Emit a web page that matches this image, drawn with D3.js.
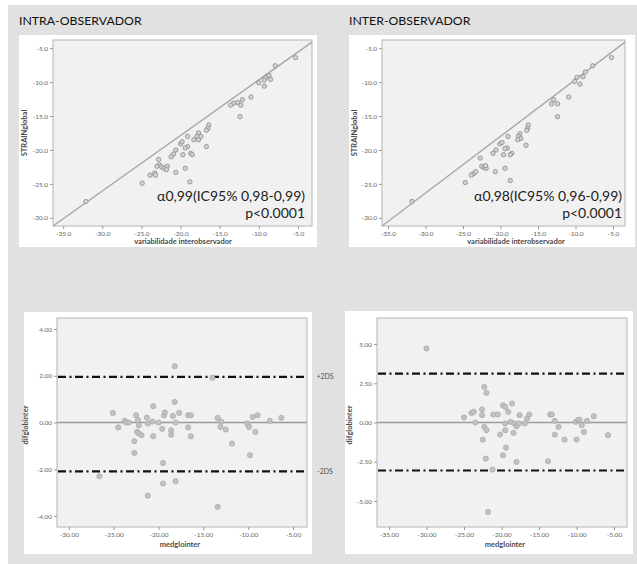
<!DOCTYPE html>
<html>
<head>
<meta charset="utf-8">
<script src="https://cdn.jsdelivr.net/npm/d3@7"></script>
<style>
  body { margin: 0; background: #fff; }
  svg { display: block; font-family: Lato, "Liberation Sans", sans-serif; }
</style>
</head>
<body>
<div id="chart"></div>
<script>
// correlation plots: x = variabilidade interobservador, y = STRAINglobal
const intraX = [-5.3, -7.9, -9.1, -8.7, -9.3, -8.5, -10.0, -9.3, -11.0, -13.2, -12.7, -12.3, -13.6, -12.1, -12.4,
  -16.4, -16.5, -16.7, -17.7, -17.9, -17.4, -17.7, -18.3, -19.1, -19.1, -19.4, -20.0, -19.8, -18.7, -18.5,
  -19.7, -20.6, -20.9, -21.2, -16.7, -19.4, -20.6, -18.8, -22.8, -22.7, -22.4, -22.1, -21.7, -21.8, -23.0,
  -23.3, -23.9, -23.2, -24.9, -32.1];
const intraY = [-6.4, -7.6, -9.3, -9.0, -9.7, -9.6, -10.1, -10.6, -12.2, -13.1, -13.0, -13.4, -13.4, -12.6, -15.1,
  -16.3, -16.8, -17.1, -17.5, -18.0, -18.0, -18.5, -18.5, -18.0, -19.5, -19.7, -19.1, -18.8, -20.5, -20.7,
  -20.7, -20.0, -20.6, -21.0, -19.5, -22.7, -23.3, -24.7, -21.4, -22.2, -22.5, -22.7, -22.4, -22.9, -22.4,
  -23.4, -23.7, -23.7, -24.9, -27.6];
const interX = [-5.2, -7.7, -8.7, -9.0, -9.8, -9.4, -10.1, -10.9, -12.4, -12.9, -13.2, -12.4, -16.3, -16.4, -16.5,
  -17.4, -17.6, -17.3, -17.7, -19.0, -19.1, -19.4, -20.1, -19.8, -18.5, -18.7, -19.6, -21.0, -20.6, -16.6,
  -19.4, -20.7, -18.7, -22.7, -22.5, -22.2, -21.9, -22.0, -23.6, -23.9, -23.3, -24.7, -31.8];
const interY = [-6.4, -7.6, -8.5, -9.2, -9.3, -10.3, -9.9, -12.2, -13.2, -12.6, -13.2, -15.1, -16.3, -16.8, -17.1,
  -17.6, -18.0, -18.3, -18.5, -18.0, -19.7, -19.8, -19.1, -18.9, -20.5, -20.7, -20.7, -20.5, -20.0, -19.3,
  -22.7, -23.2, -24.5, -21.2, -22.4, -22.6, -22.7, -22.3, -23.5, -23.7, -23.2, -24.8, -27.6];
const intraFit = [[-36.3, -31.2], [-3.2, -4.1]];
const interFit = [[-35.8, -31.2], [-3.4, -4.1]];

// Bland-Altman plots: x = medglointer, y = difglobinter
const baIntraMean = [-25.1, -24.5, -23.8, -23.6, -23.3, -22.5, -22.3, -22.2, -22.4, -22.2, -21.9, -22.7, -22.7,
  -21.3, -21.2, -20.6, -20.7, -20.6, -20.0, -19.6, -19.4, -19.3, -19.5, -19.5, -21.2, -18.4, -18.2, -18.2,
  -18.1, -18.6, -18.6, -17.7, -18.1, -16.7, -16.4, -16.7, -16.4, -26.6, -14.0, -13.4, -13.0, -13.1, -12.5,
  -11.8, -13.4, -10.1, -9.9, -9.5, -8.95, -9.2, -9.8, -7.6, -6.3];
const baIntraDiff = [0.41, -0.21, 0.07, 0.0, 0.0, 0.31, 0.1, -0.12, -0.4, -0.47, -0.54, -0.8, -1.3,
  0.21, -0.04, 0.7, 0.04, -0.59, 0.0, -0.27, 0.31, 0.43, -1.73, -2.61, -3.13, 0.28, 0.88, 2.41,
  0.0, -0.33, -0.52, 0.41, -2.51, 0.31, 0.31, -0.21, -0.59, -2.3, 1.91, 0.2, 0.03, -0.19, -0.3,
  -0.9, -3.61, -0.04, -0.19, 0.24, 0.31, -0.4, -1.4, 0.07, 0.2];
const baInterMean = [-30.0, -25.0, -24.0, -23.7, -23.5, -22.6, -22.6, -22.3, -22.0, -22.3, -22.0, -22.5, -22.1,
  -21.1, -20.5, -21.2, -20.2, -19.8, -19.5, -19.1, -18.6, -19.5, -19.5, -19.4, -19.8, -18.8, -18.3, -18.4,
  -18.0, -17.6, -17.7, -18.0, -16.9, -16.6, -16.3, -21.8, -13.5, -13.3, -12.9, -12.4, -12.9, -11.6, -13.8,
  -10.1, -9.8, -9.6, -9.3, -10.0, -9.0, -8.6, -7.7, -5.8];
const baInterDiff = [4.72, 0.32, 0.61, 0.68, 0.0, 0.83, 0.47, 2.27, 1.89, -0.28, -0.49, -1.09, -2.3,
  0.51, 0.51, -3.0, -0.77, 1.1, 0.99, 0.68, 1.21, -0.06, -0.49, -1.6, -2.09, 0.04, -0.06, -0.66,
  -0.24, 0.47, -0.06, -2.51, -0.06, 0.26, 0.51, -5.7, 0.51, 0.51, 0.1, -0.28, -0.77, -1.09, -2.47,
  0.04, 0.15, 0.18, -0.17, -1.09, -0.6, 0.1, 0.4, -0.81];
const baIntraLimits = [1.95, -2.09];
const baInterLimits = [3.12, -3.06];

// tick labels
const strainTicks = [-30, -25, -20, -15, -10, -5];
const variabTicks = [-35, -30, -25, -20, -15, -10, -5];
const baIntraYTicks = [-4, -2, 0, 2, 4];
const baInterYTicks = [-5, -2.5, 0, 2.5, 5];
const baIntraXTicks = [-30, -25, -20, -15, -10, -5];
const baInterXTicks = [-35, -30, -25, -20, -15, -10, -5];

const width = 637, height = 564;

const svg = d3.select("#chart").append("svg")
  .attr("width", width)
  .attr("height", height);

svg.append("rect").attr("x", 8).attr("y", 5).attr("width", 629).attr("height", 559).attr("fill", "#e1e1e1");

const panels = [
  [19, 35, 298, 212],
  [349, 35, 286, 212],
  [24, 312, 288, 242],
  [345, 311, 288, 243]
];
svg.selectAll(".panel").data(panels).enter().append("rect")
  .attr("class", "panel")
  .attr("x", d => d[0]).attr("y", d => d[1])
  .attr("width", d => d[2]).attr("height", d => d[3])
  .attr("fill", "#fff");

svg.append("text").attr("x", 19).attr("y", 25).attr("font-size", 12.3).attr("fill", "#111")
  .text("INTRA-OBSERVADOR");
svg.append("text").attr("x", 349).attr("y", 25).attr("font-size", 12.3).attr("fill", "#111")
  .text("INTER-OBSERVADOR");

function frame(box, xDomain, yDomain, xTicks, yTicks, fmt, xTitle, yTitle, tx, ty) {
  const [x0, y0, x1, y1] = box;
  const x = d3.scaleLinear().domain(xDomain).range([x0, x1]);
  const y = d3.scaleLinear().domain(yDomain).range([y1, y0]);
  svg.append("rect").attr("x", x0).attr("y", y0).attr("width", x1 - x0).attr("height", y1 - y0)
    .attr("fill", "#f1f1f1").attr("stroke", "#b4b4b4").attr("stroke-width", 1);

  const gy = svg.append("g").attr("transform", `translate(${x0},0)`)
    .call(d3.axisLeft(y).tickValues(yTicks).tickSize(3).tickPadding(2).tickFormat(fmt));
  const gx = svg.append("g").attr("transform", `translate(0,${y1})`)
    .call(d3.axisBottom(x).tickValues(xTicks).tickSize(3).tickPadding(2).tickFormat(fmt));
  [gx, gy].forEach(g => {
    g.select(".domain").remove();
    g.selectAll("line").attr("stroke", "#999");
    g.selectAll("text").attr("fill", "#666").attr("font-size", 6.5).attr("font-family", "Lato, sans-serif");
  });

  svg.append("text").attr("x", tx[0]).attr("y", tx[1]).attr("text-anchor", "middle")
    .attr("font-size", 7.5).attr("font-weight", "bold").attr("fill", "#4a4a4a").text(xTitle);
  svg.append("text").attr("transform", `translate(${ty[0]},${ty[1]}) rotate(-90)`).attr("text-anchor", "middle")
    .attr("font-size", 7.5).attr("font-weight", "bold").attr("fill", "#4a4a4a").text(yTitle);
  return { x, y, box };
}

function scatter(p, xs, ys, fit, label, right) {
  svg.append("line")
    .attr("x1", p.x(fit[0][0])).attr("y1", p.y(fit[0][1]))
    .attr("x2", p.x(fit[1][0])).attr("y2", p.y(fit[1][1]))
    .attr("stroke", "#a8a8a8").attr("stroke-width", 1.5);
  svg.append("g").selectAll("circle").data(xs).enter().append("circle")
    .attr("cx", d => p.x(d)).attr("cy", (d, i) => p.y(ys[i])).attr("r", 2.2)
    .attr("fill", "#d2d2d2").attr("stroke", "#8a8a8a").attr("stroke-width", 0.8);
  svg.append("text").attr("x", right).attr("y", 201).attr("text-anchor", "end")
    .attr("font-size", 14).attr("fill", "#222").text(label);
  svg.append("text").attr("x", right).attr("y", 218).attr("text-anchor", "end")
    .attr("font-size", 14).attr("fill", "#222").text("p<0.0001");
}

function blandAltman(p, xs, ys, limits) {
  svg.append("line").attr("x1", p.box[0]).attr("x2", p.box[2]).attr("y1", p.y(0)).attr("y2", p.y(0))
    .attr("stroke", "#9a9a9a").attr("stroke-width", 1.5);
  limits.forEach(v => {
    svg.append("line").attr("x1", p.box[0] + 1).attr("x2", p.box[2] - 1).attr("y1", p.y(v)).attr("y2", p.y(v))
      .attr("stroke", "#111").attr("stroke-width", 2.2).attr("stroke-dasharray", "8,3.5,2,3.5");
  });
  svg.append("g").selectAll("circle").data(xs).enter().append("circle")
    .attr("cx", d => p.x(d)).attr("cy", (d, i) => p.y(ys[i])).attr("r", 2.6)
    .attr("fill", "#c2c2c2").attr("stroke", "#a6a6a6").attr("stroke-width", 0.7);
}

const f1 = d => d.toFixed(1);
const f2 = d => d.toFixed(2);

const tl = frame([53, 40, 312, 226], [-36.3, -3.2], [-31.2, -3.8], variabTicks, strainTicks, f1,
  "variabilidade interobservador", "STRAINglobal", [183, 244], [27, 133]);
scatter(tl, intraX, intraY, intraFit, "α0,99(IC95% 0,98-0,99)", 305);

const tr = frame([382, 40, 625, 226], [-35.8, -3.4], [-31.2, -3.8], variabTicks, strainTicks, f1,
  "variabilidade interobservador", "STRAINglobal", [516, 244], [357, 133]);
scatter(tr, interX, interY, interFit, "α0,98(IC95% 0,96-0,99)", 622);

const bl = frame([57, 318, 307, 527], [-31.33, -3.44], [-4.47, 4.47], baIntraXTicks, baIntraYTicks, f2,
  "medglointer", "difglobinter", [180, 547], [28, 425]);
blandAltman(bl, baIntraMean, baIntraDiff, baIntraLimits);

const br = frame([377, 318, 627, 527], [-36.6, -3.27], [-6.66, 6.66], baInterXTicks, baInterYTicks, f2,
  "medglointer", "difglobinter", [505, 547], [352, 425]);
blandAltman(br, baInterMean, baInterDiff, baInterLimits);

svg.append("text").attr("x", 325).attr("y", bl.y(baIntraLimits[0]) + 2.5).attr("text-anchor", "middle")
  .attr("font-size", 7).attr("fill", "#555").text("+2DS");
svg.append("text").attr("x", 325).attr("y", bl.y(baIntraLimits[1]) + 2.5).attr("text-anchor", "middle")
  .attr("font-size", 7).attr("fill", "#555").text("-2DS");
</script>
</body>
</html>
